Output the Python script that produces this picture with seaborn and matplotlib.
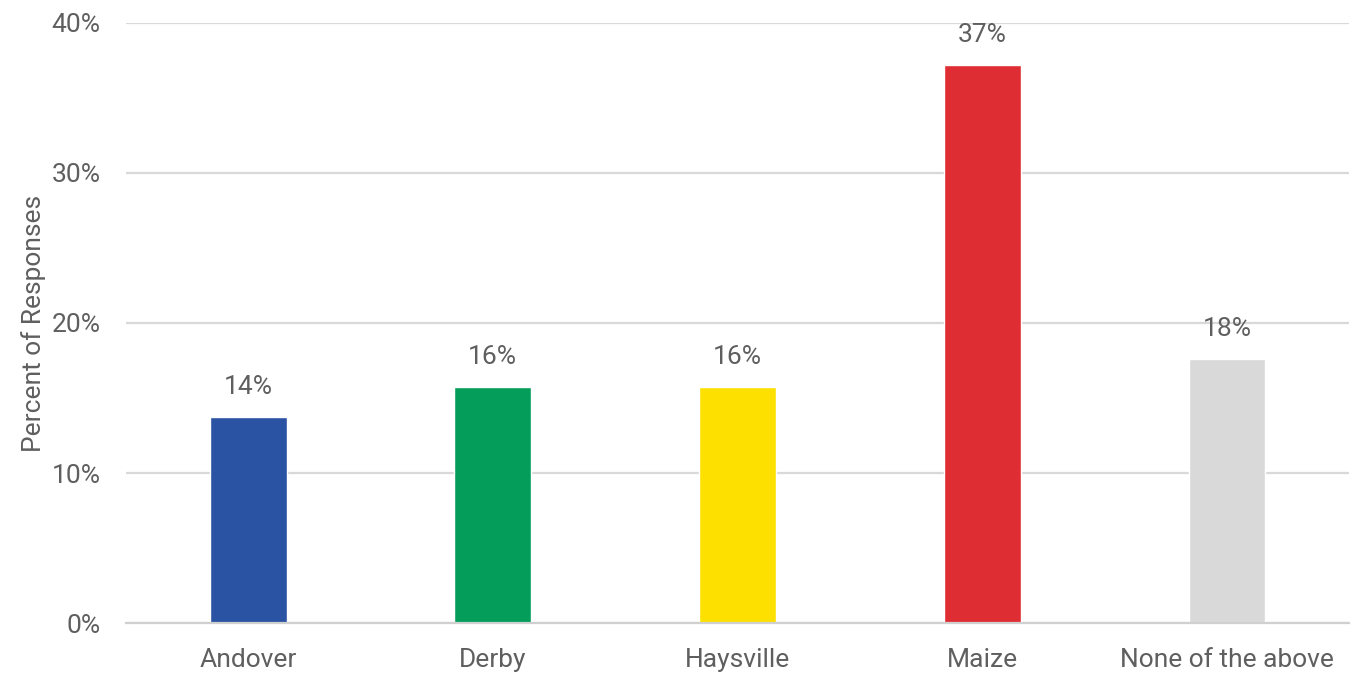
import matplotlib
matplotlib.use("Agg")
import matplotlib.pyplot as plt
import seaborn as sns
import pandas as pd
from matplotlib.ticker import PercentFormatter

categories = ["Andover", "Derby", "Haysville", "Maize", "None of the above"]
percents = [13.7, 15.7, 15.7, 37.2, 17.6]
bar_colors = ["#2B53A4", "#049D5A", "#FDE000", "#DE2E33", "#D9D9D9"]

sns.set_theme(style="white")
plt.rcParams["font.family"] = ["Roboto", "DejaVu Sans"]
TEXT = "#5F5F5F"

df = pd.DataFrame({"city": categories, "pct": percents})

fig, ax = plt.subplots(figsize=(13.52, 6.75), dpi=100)
fig.subplots_adjust(left=0.093, right=0.998, top=0.966, bottom=0.077)

sns.barplot(data=df, x="city", y="pct", hue="city", palette=bar_colors,
            width=0.314, legend=False, ax=ax, saturation=1)

ax.set_ylim(0, 40)
ax.set_xlim(-0.5, 4.5)
ax.set_yticks([0, 10, 20, 30, 40])
ax.yaxis.set_major_formatter(PercentFormatter(decimals=0))
ax.yaxis.grid(True, color="#D9D9D9", linewidth=1.6)
ax.set_axisbelow(True)
for side in ["top", "right", "left"]:
    ax.spines[side].set_visible(False)
ax.spines["bottom"].set_color("#D0D0D0")
ax.spines["bottom"].set_linewidth(1.6)

ax.tick_params(axis="both", length=0, labelsize=19, labelcolor=TEXT)
ax.tick_params(axis="y", pad=18)
ax.tick_params(axis="x", pad=18)
ax.set_xlabel("")
ax.set_ylabel("Percent of Responses", fontsize=19, color=TEXT, labelpad=4)

for i, v in enumerate(percents):
    ax.text(i, v + 1.2, f"{round(v):.0f}%", ha="center", va="bottom",
            fontsize=19, color=TEXT)

fig.savefig("out.png", dpi=100)
